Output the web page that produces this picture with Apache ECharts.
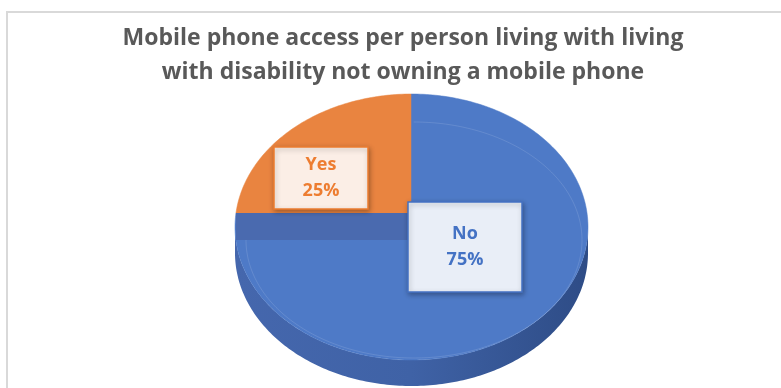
<!DOCTYPE html>
<html>
<head>
<meta charset="utf-8">
<script src="https://cdn.jsdelivr.net/npm/echarts@6/dist/echarts.min.js"></script>
<style>
  html, body { margin: 0; padding: 0; background: #ffffff; }
  #chart { width: 781px; height: 388px; }
</style>
</head>
<body>
<div id="chart"></div>
<script>
// Share of respondents per answer
const categories = ['No', 'Yes'];
const shares = [75, 25];
const chartTitle = 'Mobile phone access per person living with living\nwith disability not owning a mobile phone';

// ---- layout / style (not data) ----
const FONT = '"Open Sans", Lato, sans-serif';
const pie = { ax: 411, ay: 213, cx: 411.5, cy: 227, rx: 176.5, ry: 133, depth: 26 };
const bevel = { cx: 414, cy: 240, rx: 168, ry: 118 };
const styles = {
  No:  { face: '#4E7AC7', wall: '#4A6AAF', text: '#4472C4', box: '#E9EEF7', border: '#4472C4',
         label: { dx: -3, dy: -11, w: 114, h: 90 } },
  Yes: { face: '#E98440', wall: '#C9692C', text: '#ED7D31', box: '#FBEEE6', border: '#ED7D31',
         label: { dx: -137, dy: -66, w: 94, h: 62 } }
};

const total = shares.reduce((a, b) => a + b, 0);
const RAD = Math.PI / 180;

// point where a ray from the pie centre (at pie angle deg) meets the rim ellipse
function rimParam(deg) {
  const dx = Math.cos(deg * RAD), dy = -Math.sin(deg * RAD) * pie.ry / pie.rx;
  const u0 = (pie.ax - pie.cx) / pie.rx, v0 = (pie.ay - pie.cy) / pie.ry;
  const du = dx / pie.rx, dv = dy / pie.ry;
  const A = du * du + dv * dv, B = 2 * (u0 * du + v0 * dv), C = u0 * u0 + v0 * v0 - 1;
  const t = (-B + Math.sqrt(B * B - 4 * A * C)) / (2 * A);
  const u = u0 + t * du, v = v0 + t * dv;
  return Math.atan2(-v, u) / RAD;
}
function ell(e, phi, off) {
  return [e.cx + e.rx * Math.cos(phi * RAD), e.cy - e.ry * Math.sin(phi * RAD) + (off || 0)];
}
function arc(e, p0, p1, off) {
  const pts = [];
  const n = Math.max(2, Math.ceil(Math.abs(p0 - p1)));
  for (let k = 0; k <= n; k++) pts.push(ell(e, p0 + (p1 - p0) * k / n, off));
  return pts;
}

function renderItem(params, api) {
  const i = params.dataIndex;
  const name = categories[i];
  const st = styles[name];
  let cum = 0;
  for (let j = 0; j < i; j++) cum += shares[j];
  const a0 = 90 - 360 * cum / total;                 // clockwise from 12 o'clock
  const a1 = 90 - 360 * (cum + api.value(0)) / total;
  const p0 = rimParam(a0);
  let p1 = rimParam(a1);
  const span = ((p0 - p1) % 360 + 360) % 360 || 360;
  p1 = p0 - span;

  const children = [];
  // visible front wall (lower half of the rim)
  [-360, 0, 360].forEach(function (s) {
    const lo = Math.max(p1, -180 + s), hi = Math.min(p0, 0 + s);
    if (hi > lo) {
      const top = arc(pie, hi, lo, 0);
      const bottom = arc(pie, lo, hi, pie.depth);
      children.push({
        type: 'polygon', z2: 0,
        shape: { points: top.concat(bottom) },
        style: {
          fill: {
            type: 'linear', x: pie.cx - pie.rx, y: 0, x2: pie.cx + pie.rx, y2: 0, global: true,
            colorStops: [{ offset: 0, color: '#4567AD' }, { offset: 0.5, color: '#3F62A6' }, { offset: 1, color: '#2E4C86' }]
          }
        }
      });
    }
  });
  // top face
  children.push({
    type: 'polygon', z2: 1,
    shape: { points: [[pie.ax, pie.ay]].concat(arc(pie, p0, p1)) },
    style: { fill: st.face, stroke: st.face, lineWidth: 0.5 }
  });
  // bevel highlight
  children.push({
    type: 'polyline', z2: 2,
    shape: { points: arc(bevel, Math.min(p0, 90), Math.max(p1, -270)) },
    style: { stroke: 'rgba(255,255,255,0.12)', lineWidth: 1, fill: null }
  });
  // cut wall along the trailing radius
  const pe = ell(pie, p1 + 360 * Math.round((rimParam(a1) - p1) / 360));
  if (Math.abs(pe[0] - pie.ax) > 2) {
    children.push({
      type: 'polygon', z2: 3,
      shape: { points: [[pie.ax, pie.ay], pe, [pe[0], pe[1] + pie.depth + 1], [pie.ax, pie.ay + pie.depth + 1]] },
      style: { fill: st.wall }
    });
  }
  // data label box
  const lb = st.label;
  const bx = pie.ax + lb.dx, by = pie.ay + lb.dy;
  children.push({
    type: 'rect', z2: 10,
    shape: { x: bx, y: by, width: lb.w, height: lb.h },
    style: { fill: st.box, stroke: st.border, lineWidth: 1.5, shadowBlur: 5, shadowOffsetX: 1, shadowOffsetY: 2, shadowColor: 'rgba(0,0,0,0.3)' }
  });
  const pct = Math.round(api.value(0) / total * 100) + '%';
  children.push({
    type: 'text', z2: 11,
    style: {
      x: bx + lb.w / 2, y: by + lb.h / 2,
      text: name + '\n' + pct,
      align: 'center', verticalAlign: 'middle',
      font: 'bold 18px ' + FONT, lineHeight: 26,
      fill: st.text
    }
  });
  return { type: 'group', children: children };
}

const chart = echarts.init(document.getElementById('chart'), null, { renderer: 'canvas' });
chart.setOption({
  animation: false,
  backgroundColor: '#ffffff',
  title: {
    text: chartTitle,
    left: 398, top: 16, textAlign: 'center',
    textStyle: { fontFamily: FONT, fontSize: 23, fontWeight: 'bold', color: '#595959', lineHeight: 34 }
  },
  graphic: [{
    type: 'rect', z: -1,
    shape: { x: 7, y: 12, width: 800, height: 400 },
    style: { fill: null, stroke: '#D9D9D9', lineWidth: 2 }
  }],
  xAxis: { show: false }, yAxis: { show: false },
  series: [{
    type: 'custom',
    coordinateSystem: 'none',
    renderItem: renderItem,
    data: shares.map((v, i) => ({ name: categories[i], value: [v] }))
  }]
});
</script>
</body>
</html>
